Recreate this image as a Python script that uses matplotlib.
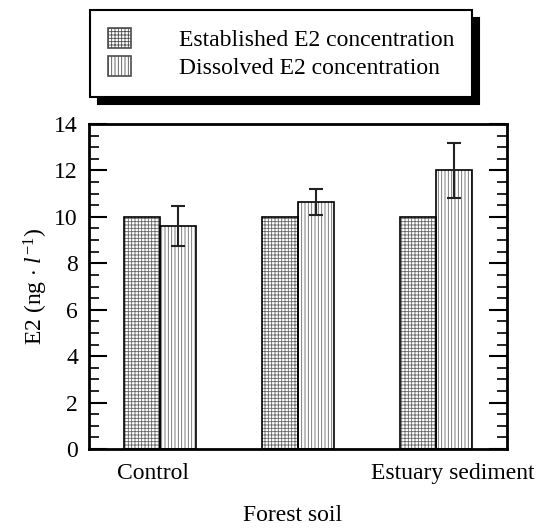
import numpy as np
import matplotlib
matplotlib.use("Agg")
import matplotlib.pyplot as plt
from matplotlib.patches import Patch

plt.rcParams['font.family'] = ['Liberation Serif', 'DejaVu Serif']
plt.rcParams['mathtext.fontset'] = 'custom'
plt.rcParams['mathtext.rm'] = 'Liberation Serif'
plt.rcParams['mathtext.it'] = 'Liberation Serif:italic'
plt.rcParams['hatch.linewidth'] = 0.6

groups = ['Control', 'Forest soil', 'Estuary sediment']
established = [10.0, 10.0, 10.0]
dissolved = [9.6, 10.65, 12.0]
dissolved_err = [0.86, 0.56, 1.2]
series_names = ['Established E2 concentration', 'Dissolved E2 concentration']

fig = plt.figure(figsize=(5.46, 5.31), dpi=100)
ax = fig.add_axes([0.163, 0.1544, 0.7656, 0.6121])

x = np.arange(len(groups))
w = 0.26
hatch_grid = '+++++'
hatch_vert = '|||||'
# hatch drawn in grey, outlines in black on top
ax.bar(x - w / 2, established, w, color='white', edgecolor='0.4', hatch=hatch_grid, linewidth=0)
ax.bar(x + w / 2, dissolved, w, color='white', edgecolor='0.4', hatch=hatch_vert, linewidth=0)
ax.bar(x - w / 2, established, w, fill=False, edgecolor='black', linewidth=1.2)
ax.bar(x + w / 2, dissolved, w, fill=False, edgecolor='black', linewidth=1.2)
ax.errorbar(x + w / 2, dissolved, yerr=dissolved_err, fmt='none', ecolor='#222222',
            elinewidth=1.5, capsize=5, capthick=1.5)

ax.set_xlim(-0.51, 2.51)
ax.set_ylim(0, 14)
ax.set_yticks(np.arange(0, 15, 2))
ax.set_yticks(np.arange(0, 14.01, 0.5), minor=True)
ax.set_xticks(x)
ax.set_xticklabels([])
ax.tick_params(axis='y', which='both', direction='in', left=True, right=True, labelsize=17, pad=8)
ax.tick_params(axis='y', which='major', length=13, width=1.5)
ax.tick_params(axis='y', which='minor', length=7, width=1.2)
ax.tick_params(axis='x', length=0)
for s in ax.spines.values():
    s.set_linewidth(2)

# category names, staggered like the original (middle one lower)
label_off = [(-5, -10), (-4, -40), (12, -10)]
for xi, name, off in zip(x, groups, label_off):
    ax.annotate(name, xy=(xi, 0), xycoords=('data', 'axes fraction'),
                xytext=off, textcoords='offset points', ha='center', va='top', fontsize=17)

ax.set_ylabel('E2 (ng $\\cdot$ $l^{-1}$)', fontsize=17, labelpad=3)

handles = [Patch(facecolor='white', edgecolor='0.3', hatch=hatch_grid, linewidth=1.2),
           Patch(facecolor='white', edgecolor='0.3', hatch=hatch_vert, linewidth=1.2)]
leg = fig.legend(handles, series_names, loc='upper left', bbox_to_anchor=(0.165, 0.981),
                 fontsize=17, frameon=True, fancybox=False, handlelength=1.0, handleheight=0.95,
                 handletextpad=2.0, labelspacing=0.2, borderpad=0.75, borderaxespad=0,
                 shadow={'ox': 5.5, 'oy': -5.5, 'color': 'black', 'alpha': 1})
leg.get_frame().set_edgecolor('black')
leg.get_frame().set_linewidth(1.5)

fig.savefig('out.png', dpi=100)
